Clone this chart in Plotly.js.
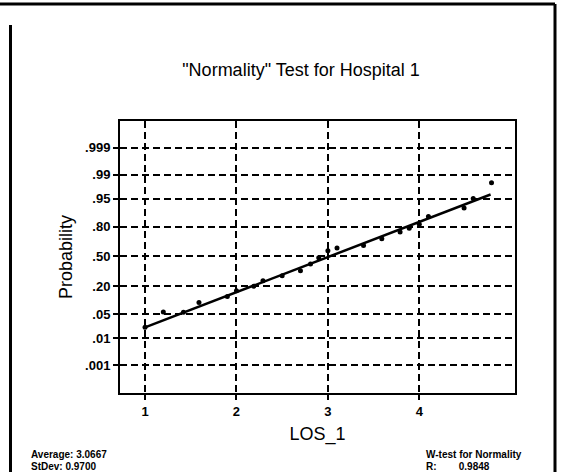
<!DOCTYPE html>
<html>
<head>
<meta charset="utf-8">
<script src="https://cdn.plot.ly/plotly-3.0.1.min.js"></script>
<style>
  html, body { margin: 0; padding: 0; background: #fff; }
  #plot { width: 561px; height: 472px; }
</style>
</head>
<body>
<div id="plot"></div>
<script>
// normal probability plot, LOS_1 for hospital 1
const losValues = [1.00, 1.20, 1.42, 1.59, 1.90, 2.00, 2.19, 2.29, 2.50, 2.70, 2.81, 2.90,
                   3.00, 3.10, 3.39, 3.59, 3.79, 3.89, 4.00, 4.10, 4.49, 4.59, 4.79];
const probValues = [0.022, 0.057, 0.056, 0.095, 0.127, 0.164, 0.198, 0.245, 0.291, 0.341, 0.413, 0.484,
                    0.564, 0.595, 0.622, 0.692, 0.755, 0.788, 0.819, 0.871, 0.916, 0.950, 0.982];

// fitted line ends
const fitX = [1.00, 4.78];
const fitProb = [0.0217, 0.9608];

const probTicks = [0.001, 0.01, 0.05, 0.20, 0.50, 0.80, 0.95, 0.99, 0.999];
const probTickText = ['.001', '.01', '.05', '.20', '.50', '.80', '.95', '.99', '.999'];
const xTicks = [1, 2, 3, 4];

// inverse of the standard normal cdf (Acklam)
function normInv(p){
	const a = [-3.969683028665376e+01, 2.209460984245205e+02, -2.759285104469687e+02, 1.383577518672690e+02, -3.066479806614716e+01, 2.506628277459239e+00];
	const b = [-5.447609879822406e+01, 1.615858368580409e+02, -1.556989798598866e+02, 6.680131188771972e+01, -1.328068155288572e+01];
	const c = [-7.784894002430293e-03, -3.223964580411365e-01, -2.400758277161838e+00, -2.549732539343734e+00, 4.374664141464968e+00, 2.938163982698783e+00];
	const d = [7.784695709041462e-03, 3.224671290700398e-01, 2.445134137142996e+00, 3.754408661907416e+00];
	const plow = 0.02425;
	let q, r;
	if(p < plow){
		q = Math.sqrt(-2*Math.log(p));
		return (((((c[0]*q+c[1])*q+c[2])*q+c[3])*q+c[4])*q+c[5]) / ((((d[0]*q+d[1])*q+d[2])*q+d[3])*q+1);
	}
	if(p <= 1 - plow){
		q = p - 0.5; r = q*q;
		return (((((a[0]*r+a[1])*r+a[2])*r+a[3])*r+a[4])*r+a[5])*q / (((((b[0]*r+b[1])*r+b[2])*r+b[3])*r+b[4])*r+1);
	}
	q = Math.sqrt(-2*Math.log(1-p));
	return -(((((c[0]*q+c[1])*q+c[2])*q+c[3])*q+c[4])*q+c[5]) / ((((d[0]*q+d[1])*q+d[2])*q+d[3])*q+1);
}

const W = 561, H = 472;
const M = {l: 120, r: 46, t: 121, b: 79};
const pw = W - M.l - M.r, ph = H - M.t - M.b;
// pixel -> paper helpers for the outer frame
const px = v => (v - M.l) / pw;
const py = v => (H - M.b - v) / ph;

const font = 'Arial, "Liberation Sans", sans-serif';
const narrow = '"Liberation Sans Narrow", ' + font;

const traces = [
	{
		x: fitX, y: fitProb.map(normInv),
		mode: 'lines', line: {color: '#000', width: 2.5},
		hoverinfo: 'skip', showlegend: false
	},
	{
		x: losValues, y: probValues.map(normInv),
		mode: 'markers', marker: {color: '#000', size: 5},
		showlegend: false
	}
];

const frame = {type: 'line', xref: 'paper', yref: 'paper', line: {color: '#000', width: 3}};

function note(text, x, y, fam){
	return {text: text, xref: 'paper', yref: 'paper', x: px(x), y: py(y),
		xanchor: 'left', yanchor: 'middle', showarrow: false,
		font: {size: 10, family: fam, weight: 'bold'}};
}

const layout = {
	width: W, height: H,
	margin: M,
	paper_bgcolor: '#fff', plot_bgcolor: '#fff',
	font: {family: font, color: '#000'},
	showlegend: false,
	title: {
		text: '"Normality" Test for Hospital 1',
		font: {size: 18, family: font},
		xref: 'paper', x: px(301), xanchor: 'center',
		yref: 'container', y: 1 - 70/H, yanchor: 'middle'
	},
	xaxis: {
		range: [0.726, 5.047],
		tickvals: xTicks, ticktext: xTicks.map(String),
		tickfont: {size: 13, family: font, weight: 'bold'},
		ticks: 'outside', ticklen: 5, tickwidth: 2, tickcolor: '#000',
		showline: true, linewidth: 2, linecolor: '#000', mirror: true,
		showgrid: true, gridcolor: '#000', gridwidth: 2, griddash: '7px,4px',
		zeroline: false,
		title: {text: 'LOS_1', font: {size: 18, family: font}, standoff: 10}
	},
	yaxis: {
		range: [-3.886, 3.85],
		tickvals: probTicks.map(normInv), ticktext: probTickText,
		tickfont: {size: 13, family: font, weight: 'bold'},
		ticks: 'outside', ticklen: 5, tickwidth: 2, tickcolor: '#000',
		showline: true, linewidth: 2, linecolor: '#000', mirror: true,
		showgrid: true, gridcolor: '#000', gridwidth: 2, griddash: '7px,4px',
		zeroline: false,
		title: {text: 'Probability', font: {size: 18, family: font}, standoff: 8}
	},
	shapes: [
		Object.assign({x0: px(0), x1: px(555), y0: py(4), y1: py(4)}, frame),
		Object.assign({x0: px(555), x1: px(555), y0: py(4), y1: py(480)}, frame),
		Object.assign({x0: px(10.5), x1: px(10.5), y0: py(25), y1: py(480)}, frame)
	],
	annotations: [
		note('Average: 3.0667', 29, 454, font),
		note('StDev: 0.9700', 29, 466, font),
		note('W-test for Normality', 424, 454, narrow),
		note('R:        0.9848', 424, 466, narrow)
	]
};

Plotly.newPlot('plot', traces, layout, {displayModeBar: false, staticPlot: true});
</script>
</body>
</html>
